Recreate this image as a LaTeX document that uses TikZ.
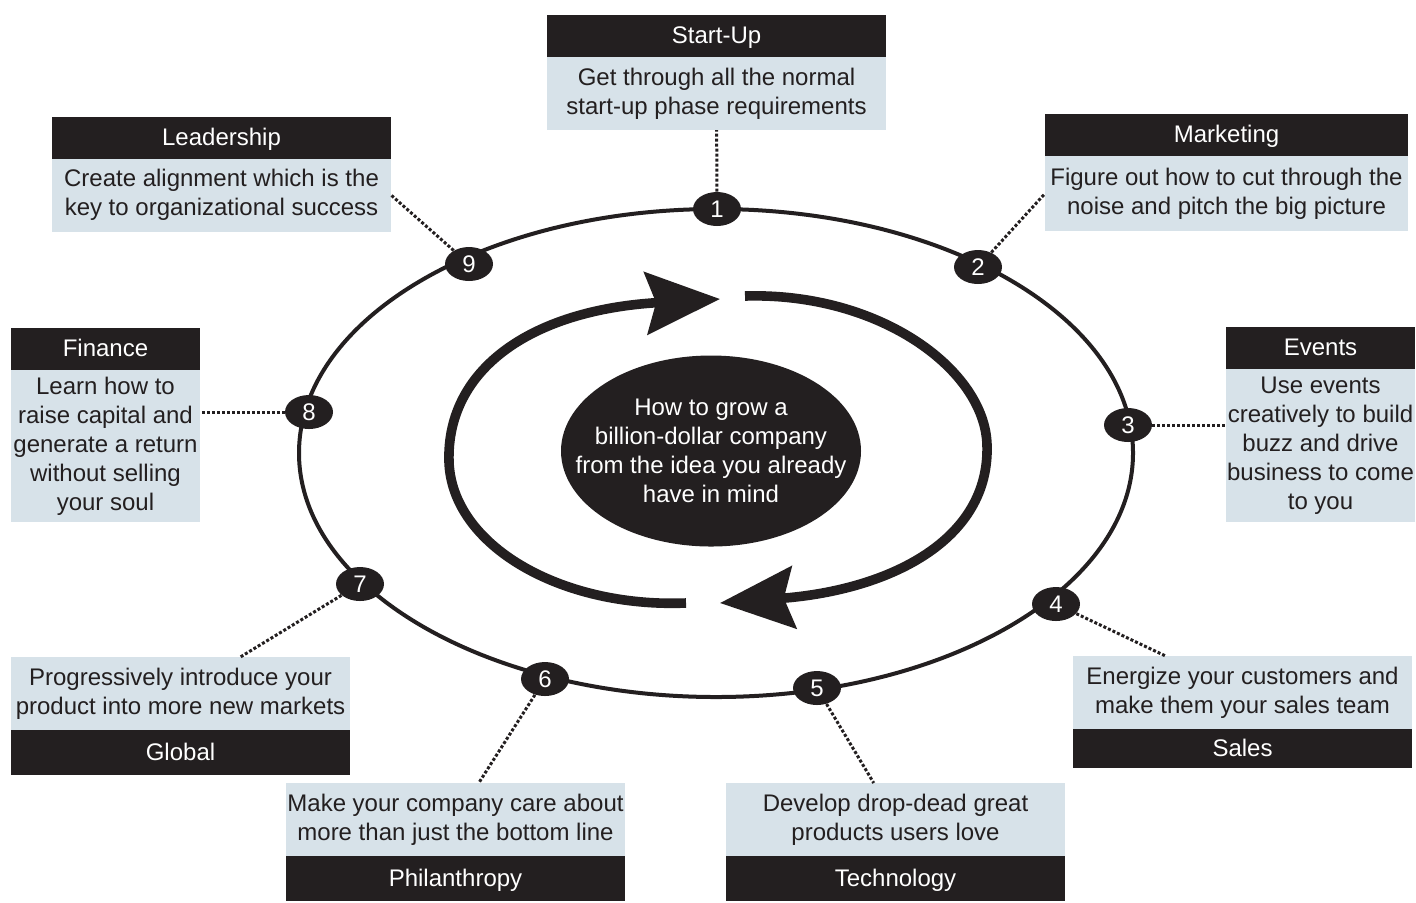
\documentclass[tikz,border=0pt]{standalone}
\usepackage{fontspec}
\setmainfont{Liberation Sans}
\usetikzlibrary{arrows.meta,positioning,shapes.geometric}
\definecolor{ink}{HTML}{231F20}
\definecolor{pale}{HTML}{D7E2E9}

\begin{document}
\begin{tikzpicture}[x=0.5pt, y=-0.5pt, font=\fontsize{12}{14.5}\selectfont,
                    head/.style={fill=ink, text=white, minimum width=#1, minimum height=21pt, inner sep=0pt, outer sep=0pt,
                                 text height=8.6pt, text depth=1pt},
                    body/.style={fill=pale, text=ink, minimum width=#1, align=center, inner sep=0pt, outer sep=0pt},
                    num/.style={ellipse, fill=ink, text=white, minimum width=24pt, minimum height=17pt, inner sep=0pt},
                    link/.style={draw=ink, line width=1.5pt, dash pattern=on 1.5pt off 1pt},
                    loop/.style={draw=ink, line width=4.8pt, -{Stealth[length=37pt, width=31pt, inset=5pt]}}]

\useasboundingbox (0,0) rectangle (1416,902);

% Outer cycle
\draw[ink, line width=2pt] (716,453) ellipse [x radius=417, y radius=244];

% Centre
\node[ellipse, fill=ink, minimum width=150pt, minimum height=95.5pt, inner sep=0pt] (core) at (711,451) {};
\node[text=white, align=center] (core-text) at (core) {How to grow a\\billion-dollar company\\from the idea you already\\have in mind};

% Turning arrows
\draw[loop] (686,603) .. controls (560,608) and (452,545) .. (449,462) .. controls (446,370) and (530,310) .. (720,299);
\draw[loop] (745,296) .. controls (880,292) and (985,370) .. (987,445) .. controls (990,540) and (890,590) .. (720,603);

% Stages on the cycle
\foreach \i/\x/\y in {1/717/209, 2/978/267, 3/1128/425, 4/1056/604, 5/817/688,
                      6/545/679, 7/360/584, 8/309/412, 9/469/264} {
    \node[num] (n\i) at (\x,\y) {\i};
}

% Top row
\node[head=169.5pt] (su-h) at (716.5,36) {Start-Up};
\node[body=169.5pt, minimum height=36.5pt, below=0pt of su-h] (su-b) {Get through all the normal\\start-up phase requirements};

\node[head=169.5pt] (le-h) at (221.5,137.5) {Leadership};
\node[body=169.5pt, minimum height=36.5pt, below=0pt of le-h] (le-b) {Create alignment which is the\\key to organizational success};

\node[head=181.5pt] (ma-h) at (1226.5,135) {Marketing};
\node[body=181.5pt, minimum height=37.5pt, below=0pt of ma-h] (ma-b) {Figure out how to cut through the\\noise and pitch the big picture};

% Side columns
\node[head=94.5pt] (fi-h) at (105.5,349) {Finance};
\node[body=94.5pt, minimum height=76pt, below=0pt of fi-h] (fi-b) {Learn how to\\raise capital and\\generate a return\\without selling\\your soul};

\node[head=94.5pt] (ev-h) at (1320.5,348) {Events};
\node[body=94.5pt, minimum height=76.5pt, below=0pt of ev-h] (ev-b) {Use events\\creatively to build\\buzz and drive\\business to come\\to you};

% Bottom row
\node[body=169.5pt, minimum height=36.5pt] (gl-b) at (180.5,693.5) {Progressively introduce your\\product into more new markets};
\node[head=169.5pt, minimum height=22.5pt, below=0pt of gl-b] (gl-h) {Global};

\node[body=169.5pt, minimum height=36.5pt] (sa-b) at (1242.5,692.5) {Energize your customers and\\make them your sales team};
\node[head=169.5pt, minimum height=19.5pt, below=0pt of sa-b] (sa-h) {Sales};

\node[body=169.5pt, minimum height=36.5pt] (ph-b) at (455.5,819.5) {Make your company care about\\more than just the bottom line};
\node[head=169.5pt, minimum height=22.5pt, below=0pt of ph-b] (ph-h) {Philanthropy};

\node[body=169.5pt, minimum height=36.5pt] (te-b) at (895.5,819.5) {Develop drop-dead great\\products users love};
\node[head=169.5pt, minimum height=22.5pt, below=0pt of te-b] (te-h) {Technology};

% Dotted links
\draw[link] (n1) -- (su-b);
\draw[link] (n2) -- (ma-b.west);
\draw[link] (n3) -- (ev-b.west |- n3);
\draw[link] (n4) -- (sa-b);
\draw[link] (n5) -- (te-b);
\draw[link] (n6) -- (ph-b);
\draw[link] (n7) -- (gl-b);
\draw[link] (n8) -- (fi-b.east |- n8);
\draw[link] (n9) -- (le-b.east);

\end{tikzpicture}
\end{document}
